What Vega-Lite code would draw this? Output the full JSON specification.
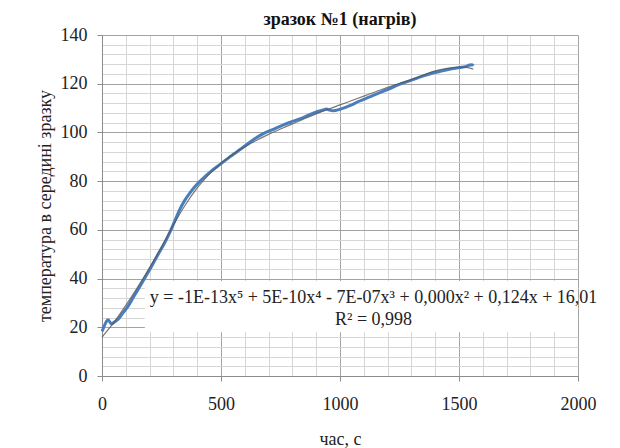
{
  "$schema": "https://vega.github.io/schema/vega-lite/v6.json",
  "width": 476,
  "height": 341,
  "autosize": "none",
  "padding": {"left": 102, "top": 35, "right": 42, "bottom": 72},
  "background": "white",
  "config": {
    "view": {"stroke": null},
    "font": "Liberation Serif",
    "axis": {"labelFont": "Liberation Serif", "titleFont": "Liberation Serif", "labelFontSize": 18, "titleFontSize": 18, "titleFontWeight": "normal", "labelColor": "#222", "titleColor": "#222", "labelOverlap": false}
  },
  "title": {"text": "зразок №1 (нагрів)", "font": "Liberation Serif", "fontSize": 18, "fontWeight": "bold", "color": "#111", "offset": -3},
  "datasets": {
    "series": [
      {"t": 0, "T": 18.3}, {"t": 4, "T": 19.2}, {"t": 14, "T": 21.5}, {"t": 25, "T": 23.1}, {"t": 32, "T": 22.3},
      {"t": 39, "T": 21.4}, {"t": 50, "T": 22.0}, {"t": 67, "T": 23.2}, {"t": 85, "T": 25.5}, {"t": 109, "T": 28.6},
      {"t": 130, "T": 32.0}, {"t": 151, "T": 35.4}, {"t": 180, "T": 40.2}, {"t": 208, "T": 45.0}, {"t": 235, "T": 49.8},
      {"t": 263, "T": 54.6}, {"t": 285, "T": 59.0}, {"t": 305, "T": 63.5}, {"t": 325, "T": 68.0}, {"t": 347, "T": 72.0},
      {"t": 368, "T": 75.0}, {"t": 389, "T": 77.6}, {"t": 410, "T": 79.8}, {"t": 432, "T": 81.8}, {"t": 460, "T": 84.2},
      {"t": 487, "T": 86.2}, {"t": 515, "T": 88.3}, {"t": 544, "T": 90.4}, {"t": 570, "T": 92.3}, {"t": 600, "T": 94.4},
      {"t": 640, "T": 97.3}, {"t": 676, "T": 99.4}, {"t": 720, "T": 101.3}, {"t": 760, "T": 103.0}, {"t": 800, "T": 104.5},
      {"t": 845, "T": 106.1}, {"t": 890, "T": 108.0}, {"t": 929, "T": 109.2}, {"t": 943, "T": 109.6}, {"t": 955, "T": 109.2},
      {"t": 971, "T": 108.9}, {"t": 1000, "T": 109.5}, {"t": 1041, "T": 111.0}, {"t": 1080, "T": 112.8}, {"t": 1125, "T": 114.6},
      {"t": 1170, "T": 116.4}, {"t": 1209, "T": 118.0}, {"t": 1250, "T": 119.7}, {"t": 1293, "T": 121.2}, {"t": 1335, "T": 122.7},
      {"t": 1377, "T": 124.0}, {"t": 1419, "T": 125.0}, {"t": 1460, "T": 125.9}, {"t": 1503, "T": 126.6}, {"t": 1530, "T": 127.1},
      {"t": 1545, "T": 127.7}, {"t": 1555, "T": 127.8}, {"t": 1560, "T": 127.3}
    ],
    "trend": [
      {"t": 0, "T": 16.0}, {"t": 50, "T": 22.0}, {"t": 100, "T": 29.0}, {"t": 150, "T": 36.5}, {"t": 200, "T": 44.5},
      {"t": 250, "T": 53.0}, {"t": 300, "T": 62.0}, {"t": 350, "T": 70.2}, {"t": 400, "T": 77.2}, {"t": 450, "T": 82.8},
      {"t": 500, "T": 87.3}, {"t": 550, "T": 91.0}, {"t": 600, "T": 94.1}, {"t": 650, "T": 96.8}, {"t": 700, "T": 99.2},
      {"t": 750, "T": 101.4}, {"t": 800, "T": 103.5}, {"t": 850, "T": 105.6}, {"t": 900, "T": 107.6}, {"t": 950, "T": 109.5},
      {"t": 1000, "T": 111.3}, {"t": 1050, "T": 113.1}, {"t": 1100, "T": 114.9}, {"t": 1150, "T": 116.7}, {"t": 1200, "T": 118.5},
      {"t": 1250, "T": 120.1}, {"t": 1300, "T": 121.7}, {"t": 1350, "T": 123.5}, {"t": 1400, "T": 125.3}, {"t": 1450, "T": 126.3},
      {"t": 1500, "T": 126.8}, {"t": 1530, "T": 126.7}, {"t": 1560, "T": 126.0}
    ],
    "box": [{"x1": 180, "x2": 2000, "y1": 18, "y2": 39}],
    "labels": [
      {"t": 1141, "T": 30.0, "text": "y = -1E-13x⁵ + 5E-10x⁴ - 7E-07x³ + 0,000x² + 0,124x + 16,01"},
      {"t": 1141, "T": 20.9, "text": "R² = 0,998"}
    ]
  },
  "layer": [
    {
      "data": {"name": "box"},
      "mark": {"type": "rect", "fill": "white", "stroke": null},
      "encoding": {
        "x": {"field": "x1", "type": "quantitative", "scale": {"domain": [0, 2000], "nice": false},
          "axis": {"title": "час, с", "values": [0,100,200,300,400,500,600,700,800,900,1000,1100,1200,1300,1400,1500,1600,1700,1800,1900,2000], "tickCount": 100,
            "labelExpr": "datum.value % 500 === 0 ? datum.label : ''", "format": "d", "labelFont": "Liberation Serif", "titleFont": "Liberation Serif",
            "grid": true, "gridColor": {"condition": {"test": "datum.value % 500 === 0", "value": "#a3a3a3"}, "value": "#d6d6d6"}, "gridWidth": 1,
            "tickOpacity": {"condition": {"test": "datum.value % 500 === 0", "value": 1}, "value": 0},
            "tickColor": "#8c8c8c", "tickSize": 5, "domainColor": "#8c8c8c", "labelPadding": 14, "titlePadding": 17, "labelFlush": false, "labelOverlap": false}},
        "x2": {"field": "x2"},
        "y": {"field": "y1", "type": "quantitative", "scale": {"domain": [0, 140], "nice": false},
          "axis": {"title": "температура в середині зразку", "values": [0,4,8,12,16,20,24,28,32,36,40,44,48,52,56,60,64,68,72,76,80,84,88,92,96,100,104,108,112,116,120,124,128,132,136,140], "tickCount": 100,
            "labelExpr": "datum.value % 20 === 0 ? datum.label : ''", "format": "d", "labelFont": "Liberation Serif", "titleFont": "Liberation Serif",
            "grid": true, "gridColor": {"condition": {"test": "datum.value % 20 === 0", "value": "#a3a3a3"}, "value": "#d6d6d6"}, "gridWidth": 1,
            "tickOpacity": {"condition": {"test": "datum.value % 20 === 0", "value": 1}, "value": 0},
            "tickColor": "#8c8c8c", "tickSize": 5, "domainColor": "#8c8c8c", "labelPadding": 10, "titlePadding": 6, "labelFlush": false, "labelOverlap": false}},
        "y2": {"field": "y2"}
      }
    },
    {
      "data": {"name": "series"},
      "mark": {"type": "line", "color": "#4a7ebb", "strokeWidth": 3, "interpolate": "monotone"},
      "encoding": {"x": {"field": "t", "type": "quantitative"}, "y": {"field": "T", "type": "quantitative"}}
    },
    {
      "data": {"name": "trend"},
      "mark": {"type": "line", "color": "#555555", "strokeWidth": 1.2, "opacity": 0.8, "interpolate": "monotone"},
      "encoding": {"x": {"field": "t", "type": "quantitative"}, "y": {"field": "T", "type": "quantitative"}}
    },
    {
      "data": {"name": "labels"},
      "mark": {"type": "text", "font": "Liberation Serif", "fontSize": 18, "align": "center", "baseline": "alphabetic", "color": "#222"},
      "encoding": {"x": {"field": "t", "type": "quantitative"}, "y": {"field": "T", "type": "quantitative"}, "text": {"field": "text"}}
    }
  ]
}
